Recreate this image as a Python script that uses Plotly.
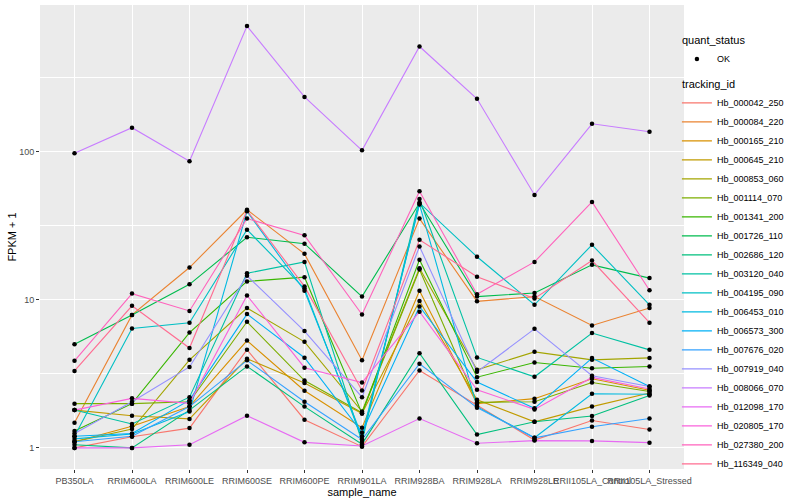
import plotly.graph_objects as go
import numpy as np

samples = ["PB350LA", "RRIM600LA", "RRIM600LE", "RRIM600SE", "RRIM600PE", "RRIM901LA",
           "RRIM928BA", "RRIM928LA", "RRIM928LE", "RRII105LA_Control", "RRII105LA_Stressed"]

tracking_ids = ["Hb_000042_250", "Hb_000084_220", "Hb_000165_210", "Hb_000645_210", "Hb_000853_060",
                "Hb_001114_070", "Hb_001341_200", "Hb_001726_110", "Hb_002686_120", "Hb_003120_040",
                "Hb_004195_090", "Hb_006453_010", "Hb_006573_300", "Hb_007676_020", "Hb_007919_040",
                "Hb_008066_070", "Hb_012098_170", "Hb_020805_170", "Hb_027380_200", "Hb_116349_040"]

colors = ["#F8766D", "#EA8331", "#D89000", "#C09B00", "#A3A500", "#7CAE00", "#39B600", "#00BB4E",
          "#00BF7D", "#00C1A3", "#00BFC4", "#00BAE0", "#00B0F6", "#35A2FF", "#9590FF", "#C77CFF",
          "#E76BF3", "#FA62DB", "#FF62BC", "#FF6C91"]

# FPKM + 1 values, one list per tracking_id (order = samples)
hb_000042_250 = [1.00, 1.19, 1.36, 4.6, 1.55, 1.02, 3.33, 1.95, 1.13, 1.53, 1.33]
hb_000084_220 = [1.48, 7.9, 16.5, 40.5, 20.4, 3.9, 35.3, 9.75, 10.5, 6.7, 8.8]
hb_000165_210 = [1.10, 1.40, 1.90, 5.3, 2.43, 1.37, 11.5, 1.99, 2.15, 2.93, 2.45]
hb_000645_210 = [1.80, 1.65, 1.57, 4.0, 2.74, 1.71, 9.8, 2.11, 1.50, 1.90, 2.35]
hb_000853_060 = [1.10, 1.34, 3.93, 8.8, 5.2, 1.76, 16.3, 3.37, 4.45, 3.93, 4.05]
hb_001114_070 = [1.99, 1.99, 2.05, 7.1, 2.85, 1.73, 16.0, 2.03, 2.05, 2.76, 2.40]
hb_001341_200 = [1.30, 1.99, 6.0, 13.3, 14.2, 1.71, 18.6, 3.00, 3.77, 3.45, 3.54]
hb_001726_110 = [5.0, 7.9, 12.7, 26.4, 23.9, 10.5, 45.0, 10.5, 11.1, 17.2, 14.0]
hb_002686_120 = [1.05, 1.00, 1.80, 3.55, 1.90, 1.06, 4.36, 1.23, 1.50, 1.64, 2.26]
hb_003120_040 = [1.80, 1.45, 2.20, 15.1, 18.0, 1.10, 47.9, 4.08, 3.02, 5.96, 4.59]
hb_004195_090 = [1.20, 6.4, 7.0, 29.7, 11.9, 1.15, 45.0, 19.5, 9.25, 23.5, 9.25]
hb_006453_010 = [1.15, 1.24, 1.76, 39.5, 11.5, 1.20, 44.0, 1.90, 1.17, 2.32, 2.30]
hb_006573_300 = [1.20, 1.25, 2.10, 8.0, 4.06, 1.27, 9.0, 2.78, 1.85, 4.04, 2.60]
hb_007676_020 = [1.10, 1.20, 1.90, 3.9, 2.05, 1.14, 3.70, 1.87, 1.17, 1.39, 1.58]
hb_007919_040 = [1.25, 2.05, 3.52, 14.5, 6.15, 2.20, 22.9, 3.26, 6.36, 3.07, 2.60]
hb_008066_070 = [97.5, 145, 86, 703, 234, 102, 512, 227, 51, 154, 136]
hb_012098_170 = [1.00, 1.00, 1.05, 1.65, 1.09, 1.03, 1.58, 1.075, 1.12, 1.115, 1.085]
hb_020805_170 = [1.80, 2.16, 2.00, 10.7, 3.48, 2.76, 8.3, 2.47, 1.82, 2.99, 2.50]
hb_027380_200 = [3.87, 11.0, 8.4, 35.3, 27.2, 7.95, 54.0, 10.9, 18.0, 45.7, 11.6]
hb_116349_040 = [3.31, 9.1, 4.72, 40.0, 12.3, 2.44, 25.4, 14.3, 10.2, 18.4, 7.0]

series = [hb_000042_250, hb_000084_220, hb_000165_210, hb_000645_210, hb_000853_060,
          hb_001114_070, hb_001341_200, hb_001726_110, hb_002686_120, hb_003120_040,
          hb_004195_090, hb_006453_010, hb_006573_300, hb_007676_020, hb_007919_040,
          hb_008066_070, hb_012098_170, hb_020805_170, hb_027380_200, hb_116349_040]

FONT = "Liberation Sans, Arial, Helvetica, sans-serif"

fig = go.Figure()

for i, (tid, col, vals) in enumerate(zip(tracking_ids, colors, series)):
    fig.add_trace(go.Scatter(
        x=samples, y=vals, mode="lines", name=tid,
        line=dict(color=col, width=1.1),
        legendrank=10 + i,
        legendgroup="tid", legendgrouptitle=dict(text="tracking_id", font=dict(size=11, color="black"))))

# points (quant_status = OK), drawn on top of lines
all_x, all_y = [], []
for vals in series:
    all_x += samples
    all_y += vals
fig.add_trace(go.Scatter(
    x=all_x, y=all_y, mode="markers", name="OK",
    marker=dict(color="black", size=4.5),
    legendrank=1,
    legendgroup="qs", legendgrouptitle=dict(text="quant_status", font=dict(size=11, color="black")),
    hoverinfo="skip"))

ymax = np.log10(max(max(s) for s in series))
ymin = np.log10(min(min(s) for s in series))
pad = 0.05 * (ymax - ymin)

fig.update_layout(
    width=800, height=500,
    margin=dict(l=40, r=116, t=5, b=31),
    paper_bgcolor="white", plot_bgcolor="#EBEBEB",
    font=dict(family=FONT, size=9, color="#4D4D4D"),
    showlegend=True,
    legend=dict(x=0.989, xanchor="left", y=0.956, yanchor="top",
                font=dict(size=9, color="black"), tracegroupgap=6,
                traceorder="grouped", itemwidth=30, bgcolor="rgba(0,0,0,0)"),
)
fig.update_xaxes(
    type="category", categoryorder="array", categoryarray=samples,
    range=[-0.6, len(samples) - 0.4],
    showgrid=True, gridcolor="white", gridwidth=1.1,
    ticks="outside", ticklen=3, tickcolor="#333333", tickangle=0,
    tickfont=dict(size=9, color="#4D4D4D"),
    title=dict(text="sample_name", font=dict(size=11, color="black"), standoff=0),
    automargin=False,
    zeroline=False, showline=False)
fig.update_yaxes(
    type="log", range=[ymin - pad, ymax + pad],
    tickvals=[1, 10, 100], ticktext=["1", "10", "100"],
    showgrid=True, gridcolor="white", gridwidth=1.1,
    minor=dict(tickvals=[10 ** 0.5, 10 ** 1.5, 10 ** 2.5], showgrid=True, gridcolor="white", gridwidth=0.5, ticks=""),
    ticks="outside", ticklen=3, tickcolor="#333333",
    tickfont=dict(size=9, color="#4D4D4D"),
    title=dict(text="FPKM + 1", font=dict(size=11, color="black"), standoff=0),
    automargin=False,
    zeroline=False, showline=False)

fig.write_html("out.html", config={"displayModeBar": False},
               post_script="document.body.style.margin='0';document.body.style.padding='0';")
